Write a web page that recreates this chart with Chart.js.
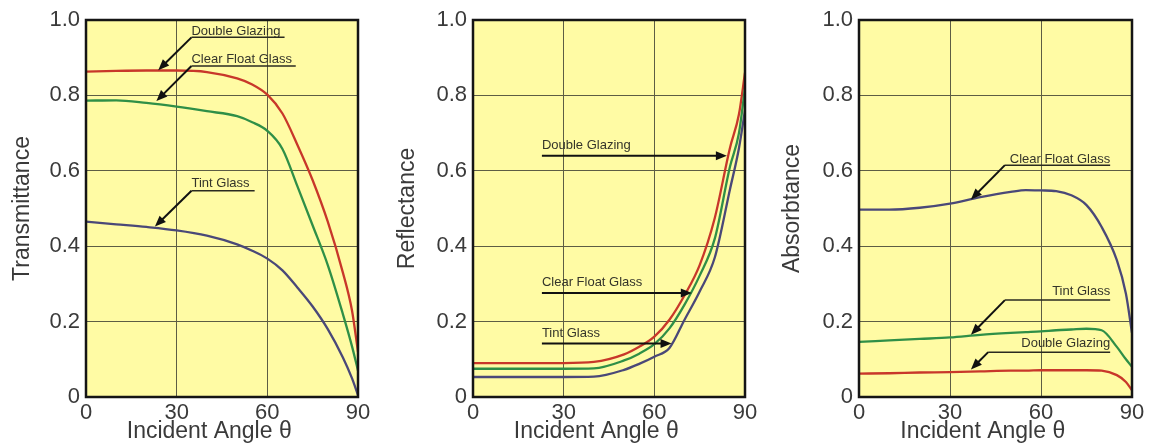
<!DOCTYPE html>
<html>
<head>
<meta charset="utf-8">
<script src="https://cdn.jsdelivr.net/npm/chart.js@4/dist/chart.umd.min.js"></script>
<style>
  html, body { margin: 0; padding: 0; background: #ffffff; }
  #wrap { position: relative; width: 1155px; height: 445px; background: #ffffff; overflow: hidden; }
  canvas { position: absolute; top: 0; }
</style>
</head>
<body>
<div id="wrap">
  <canvas id="c1" width="385" height="445" style="left:0px"></canvas>
  <canvas id="c2" width="385" height="445" style="left:385px"></canvas>
  <canvas id="c3" width="385" height="445" style="left:770px"></canvas>
</div>
<script>
// ---------------- DATA ----------------
const angles = [0, 10, 20, 30, 40, 50, 55, 60, 65, 70, 75, 80, 85, 88, 90];
const xTicks = [0, 30, 60, 90];
const yTicks = [0, 0.2, 0.4, 0.6, 0.8, 1.0];
const seriesNames = ['Double Glazing', 'Clear Float Glass', 'Tint Glass'];

// Transmittance
const transDouble = [0.863, 0.865, 0.866, 0.866, 0.862, 0.845, 0.829, 0.802, 0.752, 0.668, 0.575, 0.465, 0.330, 0.230, 0.120];
const transClear  = [0.786, 0.787, 0.780, 0.770, 0.758, 0.745, 0.729, 0.706, 0.658, 0.558, 0.455, 0.350, 0.220, 0.135, 0.070];
const transTint   = [0.465, 0.458, 0.451, 0.442, 0.428, 0.405, 0.388, 0.367, 0.336, 0.290, 0.240, 0.180, 0.105, 0.050, 0.005];

// Reflectance
const reflDouble = [0.090, 0.090, 0.090, 0.090, 0.093, 0.113, 0.133, 0.160, 0.205, 0.270, 0.350, 0.475, 0.660, 0.750, 0.860];
const reflClear  = [0.075, 0.075, 0.075, 0.075, 0.076, 0.097, 0.115, 0.140, 0.182, 0.245, 0.322, 0.420, 0.610, 0.700, 0.820];
const reflTint   = [0.053, 0.053, 0.053, 0.053, 0.054, 0.072, 0.088, 0.107, 0.130, 0.205, 0.280, 0.370, 0.550, 0.660, 0.760];

// Absorbance
const absDouble = [0.062, 0.063, 0.065, 0.066, 0.068, 0.070, 0.070, 0.071, 0.071, 0.071, 0.071, 0.070, 0.058, 0.040, 0.018];
const absClear  = [0.497, 0.497, 0.502, 0.513, 0.530, 0.544, 0.549, 0.548, 0.546, 0.535, 0.509, 0.451, 0.363, 0.274, 0.170];
const absTint   = [0.146, 0.150, 0.154, 0.158, 0.165, 0.170, 0.172, 0.174, 0.177, 0.179, 0.181, 0.177, 0.133, 0.100, 0.080];

// Annotation callouts (in data units): label text, text anchor, underline, arrow
const transNotes = [
  { text: 'Double Glazing',    tx: 34.9, ty: 0.969, align: 'left',  under: [34.9, 65.7, 0.954], arrow: [34.9, 0.954, 23.9, 0.867] },
  { text: 'Clear Float Glass', tx: 34.9, ty: 0.896, align: 'left',  under: [34.9, 69.4, 0.878], arrow: [34.9, 0.878, 23.3, 0.785] },
  { text: 'Tint Glass',        tx: 34.9, ty: 0.567, align: 'left',  under: [34.9, 55.8, 0.547], arrow: [34.9, 0.547, 22.8, 0.452] }
];
const reflNotes = [
  { text: 'Double Glazing',    tx: 22.8, ty: 0.668, align: 'left', under: null, arrow: [22.8, 0.640, 84.0, 0.640] },
  { text: 'Clear Float Glass', tx: 22.8, ty: 0.305, align: 'left', under: null, arrow: [22.8, 0.276, 72.4, 0.276] },
  { text: 'Tint Glass',        tx: 22.8, ty: 0.168, align: 'left', under: null, arrow: [22.8, 0.142, 65.7, 0.142] }
];
const absNotes = [
  { text: 'Clear Float Glass', tx: 82.8, ty: 0.630, align: 'right', under: [48.1, 82.8, 0.615], arrow: [48.1, 0.615, 36.9, 0.524] },
  { text: 'Tint Glass',        tx: 82.8, ty: 0.279, align: 'right', under: [48.1, 82.8, 0.257], arrow: [48.1, 0.257, 36.9, 0.165] },
  { text: 'Double Glazing',    tx: 82.8, ty: 0.142, align: 'right', under: [42.6, 82.8, 0.119], arrow: [42.6, 0.119, 36.9, 0.073] }
];

// ---------------- STYLE ----------------
const RED = '#c8372a', GREEN = '#2f8f47', PURPLE = '#4a4878';
const FONT = "'Liberation Sans', Arial, 'DejaVu Sans', sans-serif";
const X_TITLE = 'Incident Angle θ\u00a0\u00a0\u00a0\u00a0';

function pts(vals) { return angles.map((a, i) => ({ x: a, y: vals[i] })); }

const framePlugin = {
  id: 'frame',
  beforeDraw(chart) {
    const { ctx, chartArea: a } = chart;
    ctx.save();
    ctx.fillStyle = '#fffba4';
    ctx.fillRect(a.left, a.top, a.right - a.left, a.bottom - a.top);
    ctx.restore();
  },
  afterDraw(chart) {
    const { ctx, chartArea: a } = chart;
    const xs = chart.scales.x, ys = chart.scales.y;
    const notes = chart.options.plugins.frame.notes || [];
    ctx.save();
    ctx.font = '13px ' + FONT;
    ctx.textBaseline = 'middle';
    notes.forEach(n => {
      ctx.fillStyle = '#34342a';
      ctx.textAlign = n.align;
      ctx.fillText(n.text, xs.getPixelForValue(n.tx), ys.getPixelForValue(n.ty));
      ctx.strokeStyle = '#2a2a20';
      if (n.under) {
        ctx.lineWidth = 1.5;
        ctx.beginPath();
        ctx.moveTo(xs.getPixelForValue(n.under[0]), ys.getPixelForValue(n.under[2]));
        ctx.lineTo(xs.getPixelForValue(n.under[1]), ys.getPixelForValue(n.under[2]));
        ctx.stroke();
      }
      const x1 = xs.getPixelForValue(n.arrow[0]), y1 = ys.getPixelForValue(n.arrow[1]);
      const x2 = xs.getPixelForValue(n.arrow[2]), y2 = ys.getPixelForValue(n.arrow[3]);
      const ang = Math.atan2(y2 - y1, x2 - x1);
      const hl = 11, hw = 4.5;
      ctx.strokeStyle = '#111';
      ctx.lineWidth = 2;
      ctx.beginPath();
      ctx.moveTo(x1, y1);
      ctx.lineTo(x2 - Math.cos(ang) * hl * 0.8, y2 - Math.sin(ang) * hl * 0.8);
      ctx.stroke();
      ctx.fillStyle = '#111';
      ctx.beginPath();
      ctx.moveTo(x2, y2);
      ctx.lineTo(x2 - Math.cos(ang) * hl - Math.sin(ang) * hw, y2 - Math.sin(ang) * hl + Math.cos(ang) * hw);
      ctx.lineTo(x2 - Math.cos(ang) * hl + Math.sin(ang) * hw, y2 - Math.sin(ang) * hl - Math.cos(ang) * hw);
      ctx.closePath();
      ctx.fill();
    });
    ctx.strokeStyle = '#151515';
    ctx.lineWidth = 2.5;
    ctx.strokeRect(a.left, a.top, a.right - a.left, a.bottom - a.top);
    ctx.restore();
  }
};

function makeChart(id, yTitle, series, notes, leftW, rightPad) {
  const datasets = series.map(s => ({
    label: s.label,
    data: pts(s.data),
    borderColor: s.color,
    borderWidth: 2.3,
    pointRadius: 0,
    fill: false,
    cubicInterpolationMode: 'monotone',
    order: s.order
  }));
  return new Chart(document.getElementById(id), {
    type: 'line',
    data: { datasets },
    plugins: [framePlugin],
    options: {
      responsive: false,
      devicePixelRatio: 1,
      animation: false,
      layout: { padding: { top: 20, right: rightPad, left: 0, bottom: 0 } },
      plugins: { legend: { display: false }, tooltip: { enabled: false }, frame: { notes } },
      scales: {
        x: {
          type: 'linear', min: 0, max: 90,
          afterBuildTicks: sc => { sc.ticks = xTicks.map(v => ({ value: v })); },
          afterFit: sc => { sc.height = 48; },
          grid: { color: '#5d5d44', lineWidth: 1, drawTicks: false },
          border: { display: false },
          ticks: { padding: 3, color: '#3a3a3a', font: { family: FONT, size: 22 }, callback: v => String(v) },
          title: { display: true, text: X_TITLE, color: '#3a3a3a', font: { family: FONT, size: 23 }, padding: { top: 0, bottom: 0 } }
        },
        y: {
          type: 'linear', min: 0, max: 1,
          afterBuildTicks: sc => { sc.ticks = yTicks.map(v => ({ value: v })); },
          afterFit: sc => { sc.width = leftW; },
          grid: { color: '#5d5d44', lineWidth: 1, drawTicks: false },
          border: { display: false },
          ticks: { padding: 6, color: '#3a3a3a', font: { family: FONT, size: 22 }, callback: v => v === 0 ? '0' : v.toFixed(1) },
          title: { display: true, text: yTitle, color: '#3a3a3a', font: { family: FONT, size: 23 }, padding: { top: 9, bottom: 0 } }
        }
      }
    }
  });
}

makeChart('c1', 'Transmittance', [
  { label: seriesNames[0], data: transDouble, color: RED, order: 3 },
  { label: seriesNames[1], data: transClear, color: GREEN, order: 2 },
  { label: seriesNames[2], data: transTint, color: PURPLE, order: 1 }
], transNotes, 86, 27);

makeChart('c2', 'Reflectance', [
  { label: seriesNames[0], data: reflDouble, color: RED, order: 3 },
  { label: seriesNames[1], data: reflClear, color: GREEN, order: 2 },
  { label: seriesNames[2], data: reflTint, color: PURPLE, order: 1 }
], reflNotes, 88, 25);

makeChart('c3', 'Absorbtance', [
  { label: seriesNames[0], data: absDouble, color: RED, order: 3 },
  { label: seriesNames[1], data: absClear, color: PURPLE, order: 1 },
  { label: seriesNames[2], data: absTint, color: GREEN, order: 2 }
], absNotes, 89, 23);
</script>
</body>
</html>
